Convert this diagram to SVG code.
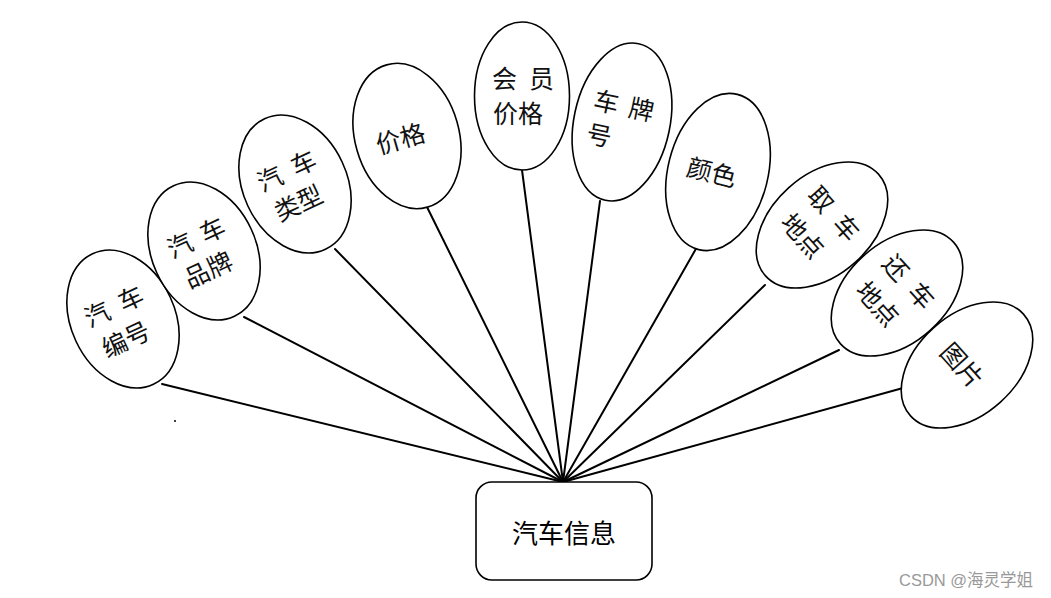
<svg xmlns="http://www.w3.org/2000/svg" width="1051" height="598" viewBox="0 0 1051 598">
<style>
.bg{fill:#fff}
.conn line{stroke:#000;stroke-width:2;stroke-linecap:round}
.ell{fill:#fff;stroke:#000;stroke-width:1.6}
.lbl{font-family:"Noto Sans CJK SC","Noto Sans",sans-serif;font-size:25px;fill:#111;dominant-baseline:central}
.c{text-anchor:middle}
.box{fill:#fff;stroke:#000;stroke-width:1.6}
.main{font-family:"Noto Sans CJK SC","Noto Sans",sans-serif;font-size:26px;fill:#000;text-anchor:middle;dominant-baseline:central}
.wm{font-family:"Liberation Sans","Noto Sans CJK SC",sans-serif;font-size:16.5px;fill:#999}
</style>
<rect class="bg" x="0" y="0" width="1051" height="598"/>
<g id="connectors" class="conn">
<line x1="162" y1="384" x2="563" y2="482"/>
<line x1="244" y1="317" x2="563" y2="482"/>
<line x1="335" y1="249" x2="563" y2="482"/>
<line x1="427" y1="207" x2="563" y2="482"/>
<line x1="522" y1="170" x2="563" y2="482"/>
<line x1="600" y1="201" x2="563" y2="482"/>
<line x1="697" y1="247" x2="563" y2="482"/>
<line x1="765" y1="285" x2="563" y2="482"/>
<line x1="839" y1="350" x2="563" y2="482"/>
<line x1="903" y1="388" x2="563" y2="482"/>
</g>
<g id="n1" transform="translate(123,319) rotate(-25)">
<ellipse class="ell" rx="52" ry="72"/>
<text class="lbl" y="-17"><tspan x="-34">汽</tspan><tspan x="3">车</tspan></text>
<text class="lbl" x="-31" y="18">编号</text>
</g>
<g id="n2" transform="translate(204,251) rotate(-25)">
<ellipse class="ell" rx="52" ry="72"/>
<text class="lbl" y="-17"><tspan x="-32">汽</tspan><tspan x="4">车</tspan></text>
<text class="lbl" x="-29" y="17">品牌</text>
</g>
<g id="n3" transform="translate(295,184) rotate(-25)">
<ellipse class="ell" rx="52" ry="72"/>
<text class="lbl" y="-17"><tspan x="-33">汽</tspan><tspan x="4">车</tspan></text>
<text class="lbl" x="-30" y="17">类型</text>
</g>
<g id="n4" transform="translate(407,136) rotate(-16)">
<ellipse class="ell" rx="52" ry="74"/>
<text class="lbl c" x="-7" y="-1">价格</text>
</g>
<g id="n5" transform="translate(522,96)">
<ellipse class="ell" rx="47.5" ry="74"/>
<text class="lbl" y="-19"><tspan x="-30">会</tspan><tspan x="7">员</tspan></text>
<text class="lbl" x="-29" y="16">价格</text>
</g>
<g id="n6" transform="translate(622,122) rotate(12)">
<ellipse class="ell" rx="48" ry="80"/>
<text class="lbl" y="-18"><tspan x="-32">车</tspan><tspan x="4">牌</tspan></text>
<text class="lbl" x="-32" y="16">号</text>
</g>
<g id="n7" transform="translate(718,172) rotate(14)">
<ellipse class="ell" rx="50" ry="80"/>
<text class="lbl c" x="-6" y="0">颜色</text>
</g>
<g id="n8" transform="translate(822,225) rotate(48)">
<ellipse class="ell" rx="50" ry="76"/>
<text class="lbl" y="-18"><tspan x="-32">取</tspan><tspan x="6">车</tspan></text>
<text class="lbl" x="-30" y="20">地点</text>
</g>
<g id="n9" transform="translate(897,293) rotate(48)">
<ellipse class="ell" rx="50" ry="76"/>
<text class="lbl" y="-18"><tspan x="-32">还</tspan><tspan x="6">车</tspan></text>
<text class="lbl" x="-30" y="20">地点</text>
</g>
<g id="n10" transform="translate(967,365) rotate(48)">
<ellipse class="ell" rx="50" ry="76"/>
<text class="lbl c" x="-3" y="2">图片</text>
</g>
<g id="main">
<rect class="box" x="476" y="482" width="176" height="98" rx="16" ry="16"/>
<text class="main" x="564" y="531">汽车信息</text>
</g>
<circle cx="175" cy="421" r="1" fill="#000"/>
<text class="wm" x="899" y="586">CSDN @海灵学姐</text>
</svg>
